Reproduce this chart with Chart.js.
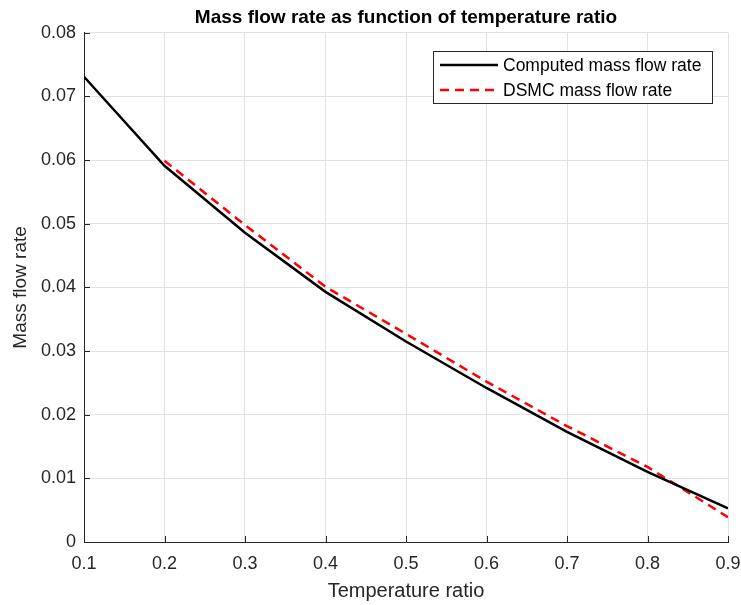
<!DOCTYPE html>
<html>
<head>
<meta charset="utf-8">
<title>Mass flow rate</title>
<script src="https://cdn.jsdelivr.net/npm/chart.js@4.4.1/dist/chart.umd.min.js"></script>
<style>
  html, body { margin: 0; padding: 0; background: #fff; }
  #wrap { width: 741px; height: 605px; }
</style>
</head>
<body>
<div id="wrap"><canvas id="flowChart" width="741" height="605"></canvas></div>
<script>
// temperature ratio values
const ratioComputed = [0.1, 0.2, 0.3, 0.4, 0.5, 0.6, 0.7, 0.8, 0.9];
const flowComputed = [0.0731, 0.0591, 0.0486, 0.0393, 0.0315, 0.0242, 0.0173, 0.0110, 0.0053];

const ratioDsmc = [0.2, 0.3, 0.4, 0.5, 0.6, 0.7, 0.8, 0.9];
const flowDsmc = [0.0599, 0.0498, 0.0401, 0.0327, 0.0252, 0.0182, 0.0118, 0.0039];

const xTicks = [0.1, 0.2, 0.3, 0.4, 0.5, 0.6, 0.7, 0.8, 0.9];
const yTicks = [0, 0.01, 0.02, 0.03, 0.04, 0.05, 0.06, 0.07, 0.08];

const axisColor = '#262626';
const fontFamily = '"Liberation Sans", Arial, Helvetica, sans-serif';

function toPoints(xs, ys) {
    return xs.map((x, i) => ({ x: x, y: ys[i] }));
}

function fmt(v) {
    return String(Number(v.toFixed(3)));
}

// ticks pointing into the plot, like matlab
const innerTicks = {
    id: 'innerTicks',
    afterDatasetsDraw(chart) {
        const c = chart.ctx;
        const a = chart.chartArea;
        const xs = chart.scales.x, ys = chart.scales.y;
        c.save();
        c.strokeStyle = axisColor;
        c.lineWidth = 1;
        c.beginPath();
        xTicks.forEach(t => {
            const px = Math.round(xs.getPixelForValue(t)) + 0.5;
            c.moveTo(px, a.bottom);
            c.lineTo(px, a.bottom - 6);
        });
        yTicks.forEach(t => {
            const py = Math.round(ys.getPixelForValue(t)) + 0.5;
            c.moveTo(a.left, py);
            c.lineTo(a.left + 6, py);
        });
        c.stroke();
        c.restore();
    }
};

// legend box in the upper right corner
const boxLegend = {
    id: 'boxLegend',
    afterDraw(chart) {
        const c = chart.ctx;
        const bx = 433, by = 51, bw = 279, bh = 52;
        c.save();
        c.fillStyle = '#fff';
        c.fillRect(bx, by, bw, bh);
        c.strokeStyle = axisColor;
        c.lineWidth = 1;
        c.strokeRect(bx + 0.5, by + 0.5, bw, bh);
        c.font = '17.5px ' + fontFamily;
        c.textBaseline = 'middle';
        c.fillStyle = '#000';
        chart.data.datasets.forEach((ds, i) => {
            const y = by + 14 + i * 25;
            c.beginPath();
            c.strokeStyle = ds.borderColor;
            c.lineWidth = ds.borderWidth;
            c.setLineDash(ds.borderDash || []);
            c.moveTo(bx + 7, y);
            c.lineTo(bx + 65, y);
            c.stroke();
            c.setLineDash([]);
            c.fillText(ds.label, bx + 70, y + 1);
        });
        c.restore();
    }
};

const ctx = document.getElementById('flowChart').getContext('2d');
const flowChart = new Chart(ctx, {
    type: 'line',
    data: {
        datasets: [{
            label: 'Computed mass flow rate',
            data: toPoints(ratioComputed, flowComputed),
            borderColor: '#000000',
            borderWidth: 2.5,
            pointRadius: 0,
            tension: 0
        }, {
            label: 'DSMC mass flow rate',
            data: toPoints(ratioDsmc, flowDsmc),
            borderColor: '#ff0000',
            borderWidth: 2.5,
            borderDash: [9, 6],
            pointRadius: 0,
            tension: 0
        }]
    },
    options: {
        responsive: false,
        animation: false,
        layout: { padding: { top: 0, right: 13, left: 0, bottom: 0 } },
        plugins: {
            legend: { display: false },
            tooltip: { enabled: false },
            title: {
                display: true,
                fullSize: false,
                text: 'Mass flow rate as function of temperature ratio',
                color: '#000',
                font: { family: fontFamily, size: 19, weight: 'bold' },
                padding: { top: 6, bottom: 4 }
            }
        },
        scales: {
            x: {
                type: 'linear',
                min: 0.1,
                max: 0.9,
                afterFit(s) { s.height = 63; s.paddingLeft = 0; s.paddingRight = 0; },
                afterBuildTicks(s) { s.ticks = xTicks.map(v => ({ value: v })); },
                grid: { color: '#e2e2e2', drawTicks: false },
                border: { display: true, color: axisColor, width: 1 },
                ticks: {
                    color: axisColor,
                    padding: 11,
                    maxRotation: 0,
                    font: { family: fontFamily, size: 18 },
                    callback: v => fmt(v)
                },
                title: {
                    display: true,
                    text: 'Temperature ratio',
                    color: axisColor,
                    font: { family: fontFamily, size: 20 },
                    padding: { top: 0, bottom: 2 }
                }
            },
            y: {
                min: 0,
                max: 0.08,
                afterFit(s) { s.width = 84; },
                afterBuildTicks(s) { s.ticks = yTicks.map(v => ({ value: v })); },
                grid: { color: '#e2e2e2', drawTicks: false },
                border: { display: true, color: axisColor, width: 1 },
                ticks: {
                    color: axisColor,
                    padding: 8,
                    font: { family: fontFamily, size: 18 },
                    callback: v => fmt(v)
                },
                title: {
                    display: true,
                    text: 'Mass flow rate',
                    color: axisColor,
                    font: { family: fontFamily, size: 19 },
                    padding: { top: 9, bottom: 0 }
                }
            }
        }
    },
    plugins: [innerTicks, boxLegend]
});
</script>
</body>
</html>
